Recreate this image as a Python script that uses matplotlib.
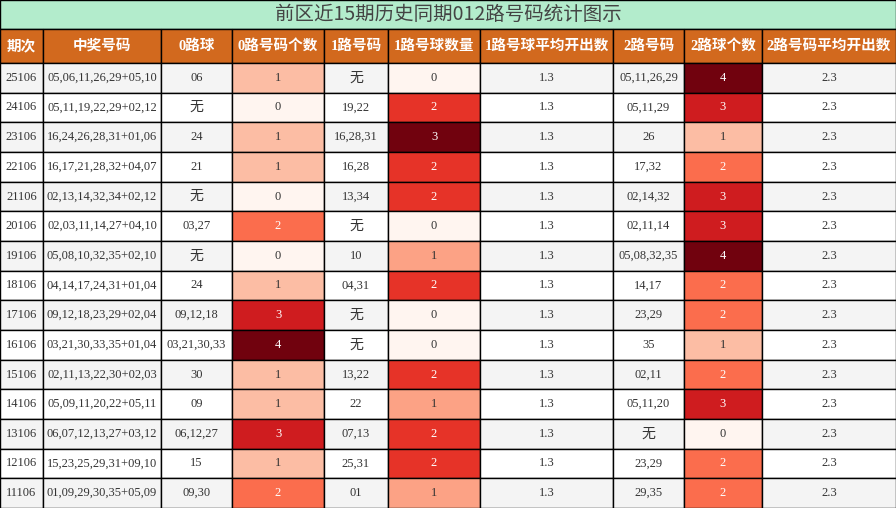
import matplotlib
matplotlib.use("Agg")
import matplotlib.pyplot as plt
from matplotlib import cm, colors as mcolors

plt.rcParams['font.family'] = ['Liberation Serif', 'Noto Sans CJK SC', 'DejaVu Sans']

title = "前区近15期历史同期012路号码统计图示"
headers = ["期次", "中奖号码", "0路球", "0路号码个数", "1路号码", "1路号球数量",
           "1路号球平均开出数", "2路号码", "2路球个数", "2路号码平均开出数"]
periods = ["25106","24106","23106","22106","21106","20106","19106","18106","17106",
           "16106","15106","14106","13106","12106","11106"]
draws = ["05,06,11,26,29+05,10","05,11,19,22,29+02,12","16,24,26,28,31+01,06",
         "16,17,21,28,32+04,07","02,13,14,32,34+02,12","02,03,11,14,27+04,10",
         "05,08,10,32,35+02,10","04,14,17,24,31+01,04","09,12,18,23,29+02,04",
         "03,21,30,33,35+01,04","02,11,13,22,30+02,03","05,09,11,20,22+05,11",
         "06,07,12,13,27+03,12","15,23,25,29,31+09,10","01,09,29,30,35+05,09"]
zero_nums = ["06","无","24","21","无","03,27","无","24","09,12,18","03,21,30,33","30","09","06,12,27","15","09,30"]
zero_cnt = [1,0,1,1,0,2,0,1,3,4,1,1,3,1,2]
one_nums = ["无","19,22","16,28,31","16,28","13,34","无","10","04,31","无","无","13,22","22","07,13","25,31","01"]
one_cnt = [0,2,3,2,2,0,1,2,0,0,2,1,2,2,1]
one_avg = ["1.3"]*15
two_nums = ["05,11,26,29","05,11,29","26","17,32","02,14,32","02,11,14","05,08,32,35","14,17","23,29","35","02,11","05,11,20","无","23,29","29,35"]
two_cnt = [4,3,1,2,3,3,4,2,2,1,2,3,0,2,2]
two_avg = ["2.3"]*15

W, H = 896, 508
xs = [0, 43, 161, 232, 324, 388, 480, 613, 684, 762, 896]
title_h = 29
head_h = 34
y0 = title_h + head_h
rh = (H - y0) / 15

fig = plt.figure(figsize=(W/100, H/100), dpi=100)
ax = fig.add_axes([0, 0, 1, 1])
ax.set_xlim(0, W); ax.set_ylim(H, 0); ax.axis('off')

def rect(x0, y, w, h, fc):
    ax.add_patch(plt.Rectangle((x0, y), w, h, facecolor=fc, edgecolor='black', lw=1))

rect(0, 0, W, title_h, '#b3eccc')
ax.text(W/2, title_h/2, title, ha='center', va='center', fontsize=14, color='#444444',
        family=['Noto Sans CJK SC', 'DejaVu Sans'])
for i, h in enumerate(headers):
    rect(xs[i], title_h, xs[i+1]-xs[i], head_h, '#d2691e')
    ax.text((xs[i]+xs[i+1])/2, title_h+head_h/2, h, ha='center', va='center',
            fontsize=10.5, color='white', fontweight='bold')

reds = matplotlib.colormaps['Reds']
cols = [periods, draws, zero_nums, zero_cnt, one_nums, one_cnt, one_avg, two_nums, two_cnt, two_avg]
heat = {3: max(zero_cnt), 5: max(one_cnt), 8: max(two_cnt)}
for r in range(15):
    y = y0 + r*rh
    base = '#f4f4f4' if r % 2 == 0 else 'white'
    for c, col in enumerate(cols):
        v = col[r]
        tc = '#333333'
        fc = base
        if c in heat:
            n = v / heat[c]
            fc = reds(n*0.98 + 0.0) if n > 0 else '#fff5f0'
            if n >= 0.5:
                tc = 'white'
        rect(xs[c], y, xs[c+1]-xs[c], rh, fc)
        s = str(v)
        fs = 10 if s == "无" else 9
        ax.text((xs[c]+xs[c+1])/2, y+rh/2, s, ha='center', va='center', fontsize=fs, color=tc)

fig.savefig('out.png', dpi=100)
